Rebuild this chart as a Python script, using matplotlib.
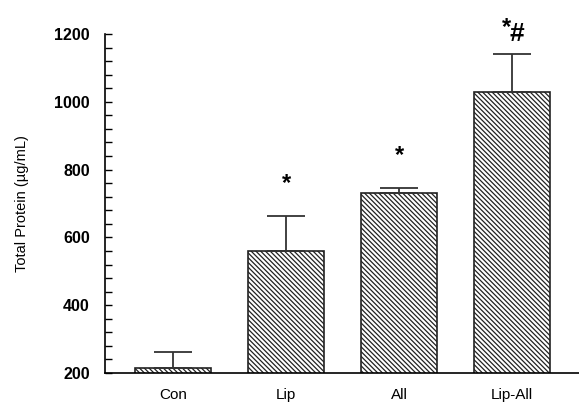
import matplotlib
matplotlib.use("Agg")
import matplotlib.pyplot as plt
import numpy as np

categories = ["Con", "Lip", "All", "Lip-All"]
values = [215, 560, 730, 1030]
errors = [47, 102, 16, 110]
marks = ["", "*", "*", "*#"]

plt.rcParams['font.family'] = ['Liberation Sans', 'DejaVu Sans']
plt.rcParams['hatch.linewidth'] = 0.9
plt.rcParams['hatch.color'] = '#8a8a8a'

fig = plt.figure(figsize=(5.79, 4.04), dpi=100)
ax = fig.add_axes([105/579, 1-373/404, 474/579, (373-34)/404])

x = np.arange(len(categories))
bars = ax.bar(x, values, width=0.67, bottom=0, color='white', edgecolor='#222222',
              linewidth=1.2, hatch='\\' * 7, zorder=2)
ax.errorbar(x, values, yerr=[np.zeros(len(errors)), errors], fmt='none',
            ecolor='#333333', elinewidth=1.3, capsize=13.5, capthick=1.3, zorder=3)

for xi, v, e, m in zip(x, values, errors, marks):
    if not m:
        continue
    if m == "*#":
        ax.text(xi - 0.02, v + e + 24, "#", ha='left', va='bottom', fontsize=19,
                fontweight='bold', zorder=4)
        ax.text(xi - 0.01, v + e + 44, "*", ha='right', va='bottom', fontsize=17,
                fontweight='bold', zorder=4)
    else:
        ax.text(xi, v + e + 62, m, ha='center', va='bottom', fontsize=17,
                fontweight='bold', zorder=4)

ax.set_ylim(200, 1200)
ax.set_xlim(-0.6, 3.59)
ax.set_yticks([200, 400, 600, 800, 1000, 1200])
ax.set_yticks(np.arange(200, 1201, 40), minor=True)
ax.set_xticks(x)
ax.set_xticklabels(categories, fontsize=11)
for lab in ax.get_yticklabels():
    lab.set_fontweight('bold')
    lab.set_fontsize(11.5)
ax.tick_params(axis='y', which='both', direction='in', length=5, width=1, pad=11)
ax.tick_params(axis='x', length=0, pad=11)
ax.spines['top'].set_visible(False)
ax.spines['right'].set_visible(False)
ax.spines['left'].set_linewidth(1.2)
ax.spines['bottom'].set_linewidth(1.2)
ax.set_ylabel("Total Protein (µg/mL)", fontsize=10.5, labelpad=18)

fig.savefig("out.png", dpi=100)
